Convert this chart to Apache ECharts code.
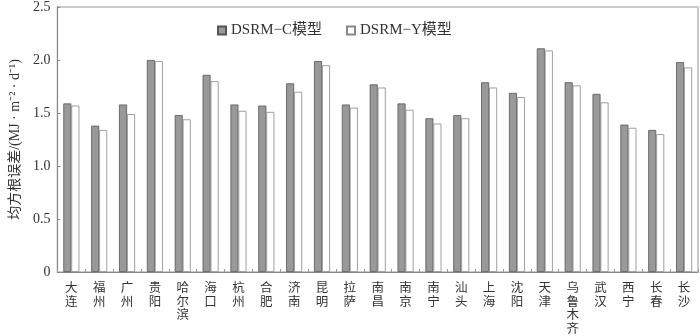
<!DOCTYPE html>
<html>
<head>
<meta charset="utf-8">
<script src="https://cdn.jsdelivr.net/npm/echarts@6/dist/echarts.min.js"></script>
<style>html,body{margin:0;padding:0;background:#fff}#container{width:700px;height:336px}</style>
</head>
<body>
<div id="container"></div>
<script>
var cities = ['大连', '福州', '广州', '贵阳', '哈尔滨', '海口', '杭州', '合肥', '济南', '昆明', '拉萨', '南昌',
    '南京', '南宁', '汕头', '上海', '沈阳', '天津', '乌鲁木齐', '武汉', '西宁', '长春', '长沙'];
var rmseC = [1.59, 1.38, 1.58, 2.00, 1.48, 1.86, 1.58, 1.57, 1.78, 1.99, 1.58, 1.77,
    1.59, 1.45, 1.48, 1.79, 1.69, 2.11, 1.79, 1.68, 1.39, 1.34, 1.98];
var rmseY = [1.57, 1.34, 1.49, 1.99, 1.44, 1.80, 1.52, 1.51, 1.70, 1.95, 1.55, 1.74,
    1.53, 1.40, 1.45, 1.74, 1.65, 2.09, 1.76, 1.60, 1.36, 1.30, 1.93];
var seriesNames = ['DSRM−C模型', 'DSRM−Y模型'];

var font = '"Liberation Serif", "Noto Sans CJK SC", serif';
var dom = document.getElementById("container");
var myChart = echarts.init(dom);
var option = {
    animation: false,
    textStyle: {fontFamily: font},
    grid: {
        left: 50, right: 2, top: 5, bottom: 64,
        show: true, borderColor: '#bbb', borderWidth: 1.5
    },
    legend: {
        top: 18,
        left: 212,
        itemWidth: 8,
        itemHeight: 8,
        itemGap: 24,
        icon: 'rect',
        textStyle: {fontFamily: font, fontSize: 15, color: '#333'},
        data: seriesNames
    },
    xAxis: {
        type: 'category',
        data: cities,
        axisLine: {lineStyle: {color: '#888'}},
        axisTick: {show: true, inside: true, length: 3, lineStyle: {color: '#999'}},
        axisLabel: {
            interval: 0,
            margin: 10,
            fontSize: 12.5,
            lineHeight: 13.5,
            color: '#333',
            fontFamily: font,
            formatter: function (v) { return v.split('').join('\n'); }
        }
    },
    yAxis: {
        type: 'value',
        min: 0,
        max: 2.5,
        interval: 0.5,
        name: '均方根误差/(MJ · m⁻² · d⁻¹)',
        nameLocation: 'middle',
        nameGap: 35,
        nameTextStyle: {fontFamily: font, fontSize: 14, color: '#333'},
        axisLine: {show: true, lineStyle: {color: '#888'}},
        axisTick: {show: true, inside: true, length: 3, lineStyle: {color: '#888'}},
        splitLine: {show: false},
        axisLabel: {
            fontSize: 14,
            color: '#333',
            fontFamily: font,
            margin: 7,
            formatter: function (v) { return v === 0 ? '0' : v.toFixed(1); }
        }
    },
    series: [
        {
            name: seriesNames[0],
            type: 'bar',
            data: rmseC,
            barWidth: 8,
            barGap: '0%',
            itemStyle: {color: '#999', borderColor: '#555', borderWidth: 0.8}
        },
        {
            name: seriesNames[1],
            type: 'bar',
            data: rmseY,
            barWidth: 8,
            itemStyle: {color: '#fff', borderColor: '#888', borderWidth: 0.8}
        }
    ]
};
myChart.setOption(option, true);
</script>
</body>
</html>
